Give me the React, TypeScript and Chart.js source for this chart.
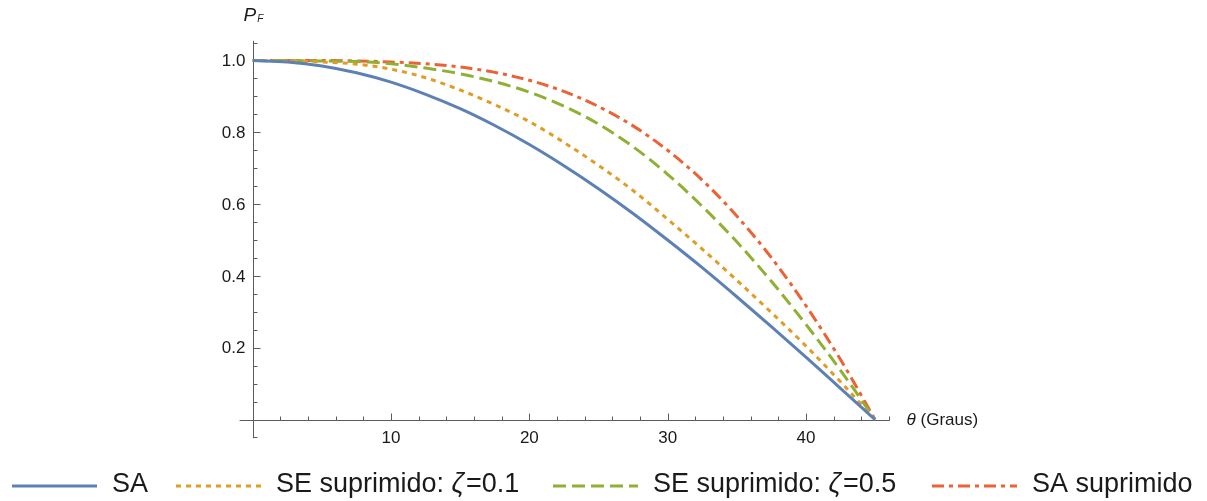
import React, { useEffect, useRef } from "react";
import { Chart, registerables } from "chart.js";

Chart.register(...registerables);

// ---- data ----
const thetaDeg = [0, 2.5, 5, 7.5, 10, 12.5, 15, 17.5, 20, 22.5, 25, 27.5, 30, 32.5, 35, 37.5, 40, 42.5, 45];
const saValues = [1.0, 0.996, 0.985, 0.966, 0.94, 0.906, 0.866, 0.819, 0.766, 0.707, 0.643, 0.574, 0.5, 0.423, 0.342, 0.259, 0.174, 0.087, 0];
const seZeta01Values = [1.0, 0.999, 0.996, 0.99, 0.976, 0.952, 0.918, 0.877, 0.83, 0.772, 0.708, 0.638, 0.558, 0.475, 0.388, 0.298, 0.205, 0.105, 0];
const seZeta05Values = [1.0, 1.0, 0.999, 0.997, 0.991, 0.979, 0.963, 0.941, 0.912, 0.873, 0.823, 0.76, 0.683, 0.594, 0.495, 0.385, 0.265, 0.137, 0];
const saSuprimidoValues = [1.0, 1.0, 1.0, 0.999, 0.996, 0.991, 0.982, 0.967, 0.945, 0.914, 0.872, 0.818, 0.75, 0.667, 0.567, 0.451, 0.317, 0.167, 0];

const seriesLabels = ["SA", "SE suprimido: ζ=0.1", "SE suprimido: ζ=0.5", "SA suprimido"];
const xTickValues = [10, 20, 30, 40];
const xTickLabels = ["10", "20", "30", "40"];
const yTickValues = [0.2, 0.4, 0.6, 0.8, 1.0];
const yTickLabels = ["0.2", "0.4", "0.6", "0.8", "1.0"];
const xAxisLabel = ["θ", " (Graus)"];
const yAxisLabel = ["P", "F"];

const FONT = "'Liberation Sans', Arial, 'DejaVu Sans', sans-serif";

const toPoints = (vals: number[]) => thetaDeg.map((t, i) => ({ x: t, y: vals[i] }));

const axesPlugin = {
  id: "mmaAxes",
  beforeDatasetsDraw(chart: any) {
    const { ctx, chartArea } = chart;
    const xs = chart.scales.x;
    const ys = chart.scales.y;
    const x0 = Math.round(xs.getPixelForValue(0)) + 0.5;
    const y0 = Math.round(ys.getPixelForValue(0)) + 0.5;
    ctx.save();
    ctx.strokeStyle = "#5c5c5c";
    ctx.lineWidth = 1;
    ctx.setLineDash([]);
    ctx.beginPath();
    ctx.moveTo(chartArea.left, y0);
    ctx.lineTo(chartArea.right, y0);
    ctx.moveTo(x0, chartArea.top);
    ctx.lineTo(x0, chartArea.bottom);
    // x ticks (major every 10, minor every 2)
    for (let v = 2; v <= xs.max + 1e-9; v += 2) {
      const px = Math.round(xs.getPixelForValue(v)) + 0.5;
      const len = v % 10 === 0 ? 7 : 4;
      ctx.moveTo(px, y0);
      ctx.lineTo(px, y0 - len);
    }
    // y ticks (major every 0.2, minor every 0.05)
    for (let k = -1; k <= 21; k++) {
      const v = k * 0.05;
      if (k === 0 || v > ys.max || v < ys.min) continue;
      const py = Math.round(ys.getPixelForValue(v)) + 0.5;
      const len = k % 4 === 0 ? 7 : 4;
      ctx.moveTo(x0, py);
      ctx.lineTo(x0 + len, py);
    }
    ctx.stroke();

    // tick labels
    ctx.fillStyle = "#1a1a1a";
    ctx.font = `17px ${FONT}`;
    ctx.textAlign = "center";
    ctx.textBaseline = "alphabetic";
    xTickValues.forEach((v, i) => {
      ctx.fillText(xTickLabels[i], xs.getPixelForValue(v), y0 + 22);
    });
    ctx.textAlign = "right";
    ctx.textBaseline = "middle";
    yTickValues.forEach((v, i) => {
      ctx.fillText(yTickLabels[i], x0 - 8, ys.getPixelForValue(v) + 1);
    });

    // axis labels
    ctx.textAlign = "left";
    ctx.textBaseline = "middle";
    let tx = chartArea.right + 17;
    ctx.font = `italic 17px ${FONT}`;
    ctx.fillText(xAxisLabel[0], tx, y0);
    tx += ctx.measureText(xAxisLabel[0]).width;
    ctx.font = `17px ${FONT}`;
    ctx.fillText(xAxisLabel[1], tx, y0);

    ctx.textBaseline = "alphabetic";
    ctx.font = `italic 19px ${FONT}`;
    ctx.fillText(yAxisLabel[0], x0 - 10, 21);
    const pw = ctx.measureText(yAxisLabel[0]).width;
    ctx.font = `italic 10px ${FONT}`;
    ctx.fillText(yAxisLabel[1], x0 - 10 + pw + 1, 22);
    ctx.restore();
  },
};

const legendPlugin = {
  id: "mmaLegend",
  afterDraw(chart: any) {
    const { ctx } = chart;
    const datasets = chart.data.datasets;
    const itemStarts = [12, 176, 553, 932];
    const sampleLen = 85;
    const textOffset = 100;
    const fontSize = 27;
    const baseY = 492;
    const lineY = 486;
    const parts = (label: string) => {
      const idx = label.indexOf("ζ");
      if (idx < 0) return [{ t: label, it: false }];
      return [
        { t: label.slice(0, idx), it: false },
        { t: "ζ", it: true },
        { t: label.slice(idx + 1), it: false },
      ];
    };
    ctx.save();
    datasets.forEach((ds: any, i: number) => {
      const x = itemStarts[i];
      ctx.strokeStyle = ds.borderColor;
      ctx.lineWidth = ds.borderWidth;
      ctx.setLineDash(ds.borderDash || []);
      ctx.lineCap = "butt";
      ctx.beginPath();
      ctx.moveTo(x, lineY);
      ctx.lineTo(x + sampleLen, lineY);
      ctx.stroke();
      let tx = x + textOffset;
      ctx.fillStyle = "#1a1a1a";
      ctx.textAlign = "left";
      ctx.textBaseline = "alphabetic";
      parts(ds.label).forEach((p) => {
        ctx.font = `${p.it ? "italic " : ""}${fontSize}px ${FONT}`;
        ctx.fillText(p.t, tx, baseY);
        tx += ctx.measureText(p.t).width + (p.it ? 2 : 0);
      });
    });
    ctx.restore();
  },
};

export default function App() {
  const canvasRef = useRef<HTMLCanvasElement | null>(null);

  useEffect(() => {
    if (!canvasRef.current) return;
    const common = {
      pointRadius: 0,
      borderWidth: 3,
      fill: false,
      cubicInterpolationMode: "monotone" as const,
    };
    const chart = new Chart(canvasRef.current, {
      type: "line",
      data: {
        datasets: [
          { ...common, label: seriesLabels[0], data: toPoints(saValues), borderColor: "#5E81B5", borderDash: [] },
          { ...common, label: seriesLabels[1], data: toPoints(seZeta01Values), borderColor: "#E19C24", borderDash: [5, 5] },
          { ...common, label: seriesLabels[2], data: toPoints(seZeta05Values), borderColor: "#8FB032", borderDash: [13, 6] },
          { ...common, label: seriesLabels[3], data: toPoints(saSuprimidoValues), borderColor: "#EB6235", borderDash: [12, 5, 4, 5] },
        ],
      },
      options: {
        responsive: false,
        animation: false,
        devicePixelRatio: 1,
        layout: { padding: { left: 239.6, right: 317.4, top: 40.8, bottom: 62.8 } },
        scales: {
          x: { type: "linear", min: -0.95, max: 46.05, display: false },
          y: { type: "linear", min: -0.052, max: 1.055, display: false },
        },
        plugins: {
          legend: { display: false },
          tooltip: { enabled: false },
        },
        elements: { line: { borderCapStyle: "butt" } },
      },
      plugins: [axesPlugin, legendPlugin],
    });
    return () => chart.destroy();
  }, []);

  return (
    <div style={{ position: "fixed", left: 0, top: 0, width: 1207, height: 501, background: "#fff" }}>
      <canvas ref={canvasRef} width={1207} height={501} style={{ display: "block" }} />
    </div>
  );
}
